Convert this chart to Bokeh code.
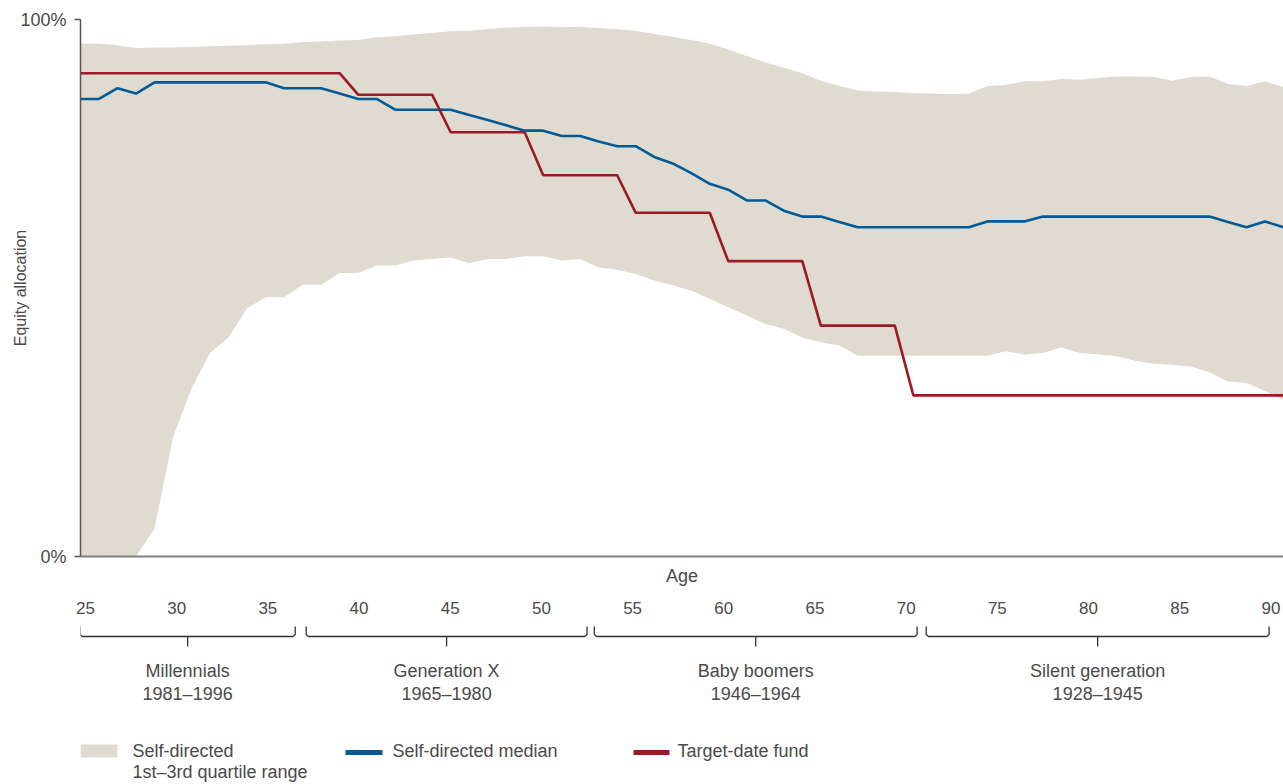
from bokeh.plotting import figure
from bokeh.models import Range1d, LinearAxis, FixedTicker, PrintfTickFormatter, ColumnDataSource
from bokeh.layouts import column
from bokeh.embed import file_html
from bokeh.resources import INLINE
from bokeh.core.properties import value

# ---------------- data ----------------
ages = list(range(25, 91))

q3_upper = [95.5, 95.5, 95.2, 94.7, 94.8, 94.8, 94.9, 95.0, 95.1, 95.2,
            95.4, 95.5, 95.8, 95.9, 96.1, 96.2, 96.7, 96.9, 97.2, 97.5,
            97.8, 97.9, 98.2, 98.5, 98.6, 98.7, 98.6, 98.6, 98.4, 98.2,
            97.9, 97.3, 96.8, 96.2, 95.5, 94.4, 93.2, 92.0, 91.0, 90.0,
            88.6, 87.6, 86.8, 86.6, 86.5, 86.3, 86.2, 86.1, 86.2, 87.6,
            87.8, 88.5, 88.5, 88.9, 88.8, 89.1, 89.4, 89.4, 89.3, 88.6,
            89.3, 89.4, 88.0, 87.6, 88.5, 87.4]

q1_lower = [0.0, 0.0, 0.0, 0.0, 5.2, 22.2, 31.3, 37.9, 40.8, 46.2,
            48.3, 48.3, 50.6, 50.6, 52.8, 52.8, 54.2, 54.2, 55.1, 55.4,
            55.7, 54.6, 55.4, 55.4, 55.9, 55.9, 55.1, 55.4, 53.8, 53.4,
            52.6, 51.4, 50.5, 49.5, 48.0, 46.4, 44.9, 43.3, 42.4, 40.8,
            39.9, 39.3, 37.4, 37.4, 37.4, 37.4, 37.4, 37.4, 37.4, 37.4,
            38.2, 37.6, 37.9, 38.9, 37.9, 37.6, 37.3, 36.4, 35.9, 35.7,
            35.4, 34.3, 32.6, 32.3, 30.8, 29.1]

median = [85.2, 85.2, 87.2, 86.2, 88.3, 88.3, 88.3, 88.3, 88.3, 88.3,
          88.3, 87.2, 87.2, 87.2, 86.2, 85.2, 85.2, 83.2, 83.2, 83.2,
          83.2, 82.2, 81.3, 80.3, 79.3, 79.3, 78.3, 78.3, 77.3, 76.4,
          76.4, 74.4, 73.2, 71.4, 69.4, 68.3, 66.3, 66.3, 64.4, 63.3,
          63.3, 62.3, 61.3, 61.3, 61.3, 61.3, 61.3, 61.3, 61.3, 62.4,
          62.4, 62.4, 63.3, 63.3, 63.3, 63.3, 63.3, 63.3, 63.3, 63.3,
          63.3, 63.3, 62.3, 61.3, 62.4, 61.3]

target_date = [90] * 15 + [86] * 5 + [79] * 5 + [71] * 5 + [64] * 5 + [55] * 5 + [43] * 5 + [30] * 21

tick_ages = [25, 30, 35, 40, 45, 50, 55, 60, 65, 70, 75, 80, 85, 90]
y_ticks = [0, 100]

generations = ["Millennials", "Generation X", "Baby boomers", "Silent generation"]
gen_years = ["1981\u20131996", "1965\u20131980", "1946\u20131964", "1928\u20131945"]
gen_start = [24.7, 37.1, 52.9, 71.1]
gen_end = [36.5, 52.5, 70.6, 89.9]

legend_labels = ["Self-directed", "1st\u20133rd quartile range", "Self-directed median", "Target-date fund"]

# ---------------- style ----------------
FONT_NAME = "Liberation Sans"
FONT = value(FONT_NAME)
TXT = "#4a4a4a"
BAND = "#dfdbd1"
BLUE = "#045a97"
RED = "#9b1b24"

FRAME_W = 1203
TOP_B = 620          # page y where the lower figure starts
HB = 784 - TOP_B

src = ColumnDataSource(dict(age=ages, q1=q1_lower, q3=q3_upper, med=median, tdf=target_date))

p = figure(frame_width=FRAME_W, frame_height=537,
           x_range=Range1d(25, 90), y_range=Range1d(0, 100),
           x_axis_location=None, toolbar_location=None, output_backend="svg",
           min_border_left=80, min_border_right=0, min_border_top=19,
           min_border_bottom=TOP_B - 19 - 537)
p.outline_line_color = None
p.grid.visible = False

p.varea(x="age", y1="q1", y2="q3", source=src, fill_color=BAND)
p.line(x="age", y="med", source=src, line_color=BLUE, line_width=2.6)
p.line(x="age", y="tdf", source=src, line_color=RED, line_width=2.6)

yax = p.yaxis[0]
yax.ticker = FixedTicker(ticks=y_ticks)
yax.formatter = PrintfTickFormatter(format="%d%%")
yax.minor_tick_line_color = None
yax.major_tick_out = 6
yax.major_tick_in = 0
yax.major_label_standoff = 8
yax.axis_line_color = "#555555"
yax.axis_line_width = 1.5
yax.major_tick_line_color = "#555555"
yax.major_tick_line_width = 1.5
yax.major_label_text_font = FONT_NAME
yax.major_label_text_font_size = "18px"
yax.major_label_text_color = TXT
yax.axis_label = "Equity allocation"
yax.axis_label_standoff = -12
yax.axis_label_text_font = FONT_NAME
yax.axis_label_text_font_size = "16px"
yax.axis_label_text_font_style = "normal"
yax.axis_label_text_color = TXT

ax_age = LinearAxis(ticker=FixedTicker(ticks=[]), axis_label="Age")
ax_age.axis_line_color = "#808080"
ax_age.axis_line_width = 1.8
ax_age.major_tick_line_color = None
ax_age.minor_tick_line_color = None
ax_age.major_label_text_font_size = "0px"
ax_age.major_label_standoff = 0
ax_age.major_tick_out = 0
ax_age.axis_label_standoff = 9
ax_age.axis_label_text_font = FONT_NAME
ax_age.axis_label_text_font_size = "18px"
ax_age.axis_label_text_font_style = "normal"
ax_age.axis_label_text_color = TXT
p.add_layout(ax_age, "below")

p.extra_x_ranges = {"ticks": Range1d(24.726, 90.69)}
ax_t = LinearAxis(x_range_name="ticks", ticker=FixedTicker(ticks=tick_ages))
ax_t.axis_line_color = None
ax_t.major_tick_line_color = None
ax_t.minor_tick_line_color = None
ax_t.major_tick_out = 0
ax_t.major_tick_in = 0
ax_t.major_label_standoff = 13
ax_t.major_label_text_font = FONT_NAME
ax_t.major_label_text_font_size = "17px"
ax_t.major_label_text_color = TXT
p.add_layout(ax_t, "below")

# ---------------- lower panel: braces, generations, legend ----------------
q = figure(frame_width=FRAME_W, frame_height=HB,
           x_range=Range1d(0, FRAME_W), y_range=Range1d(HB, 0),
           x_axis_location=None, y_axis_location=None,
           toolbar_location=None, output_backend="svg",
           min_border_left=80, min_border_right=0, min_border_top=0, min_border_bottom=0)
q.outline_line_color = None
q.grid.visible = False
q.extra_x_ranges = {"ages": Range1d(24.726, 90.69)}

Y_END = 626 - TOP_B
Y_LINE = 636 - TOP_B
Y_SPIKE = 646 - TOP_B
bx, by = [], []
for s, e in zip(gen_start, gen_end):
    bx.append([s, s, s + 0.12, e - 0.12, e, e])
    by.append([Y_END, Y_LINE - 2, Y_LINE, Y_LINE, Y_LINE - 2, Y_END])
    c = (s + e) / 2
    bx.append([c, c])
    by.append([Y_LINE, Y_SPIKE])
q.multi_line(bx, by, x_range_name="ages", line_color="#333333", line_width=1.3)

centers = [(s + e) / 2 for s, e in zip(gen_start, gen_end)]
q.text(x=centers, y=[670 - TOP_B] * 4, text=generations, x_range_name="ages",
       text_align="center", text_baseline="middle", text_font=FONT,
       text_font_size="18px", text_color=TXT)
q.text(x=centers, y=[693 - TOP_B] * 4, text=gen_years, x_range_name="ages",
       text_align="center", text_baseline="middle", text_font=FONT,
       text_font_size="18px", text_color=TXT)

# legend
q.quad(left=[0], right=[37], top=[744 - TOP_B], bottom=[757 - TOP_B], fill_color=BAND, line_color=None)
q.segment(x0=[265], y0=[752 - TOP_B], x1=[302], y1=[752 - TOP_B], line_color=BLUE, line_width=5)
q.segment(x0=[553], y0=[752 - TOP_B], x1=[589], y1=[752 - TOP_B], line_color=RED, line_width=5)
q.text(x=[52, 52, 312, 597], y=[750 - TOP_B, 771 - TOP_B, 750 - TOP_B, 750 - TOP_B],
       text=legend_labels, text_align="left", text_baseline="middle", text_font=FONT,
       text_font_size="18px", text_color=TXT)

layout = column(p, q, spacing=0)
open("out.html", "w").write(file_html(layout, INLINE))
